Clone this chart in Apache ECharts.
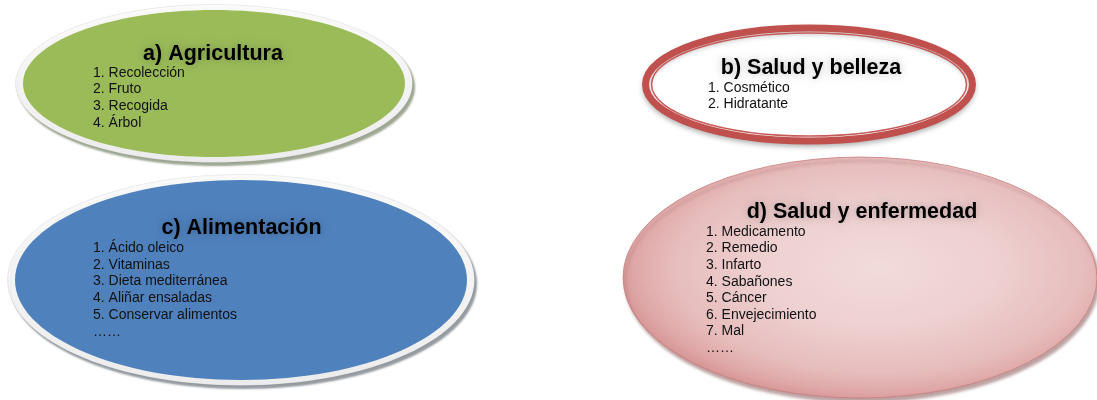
<!DOCTYPE html>
<html><head><meta charset="utf-8">
<script src="https://cdn.jsdelivr.net/npm/echarts@6/dist/echarts.min.js"></script>
<style>html,body{margin:0;padding:0;background:#fff}#c{width:1097px;height:400px}</style>
</head><body><div id="c"></div>
<script>
// ---- content ----
const titles = ['a) Agricultura', 'b) Salud y belleza', 'c) Alimentación', 'd) Salud y enfermedad'];
const itemsA = ['1. Recolección', '2. Fruto', '3. Recogida', '4. Árbol'];
const itemsB = ['1. Cosmético', '2. Hidratante'];
const itemsC = ['1. Ácido oleico', '2. Vitaminas', '3. Dieta mediterránea', '4. Aliñar ensaladas', '5. Conservar alimentos', '……'];
const itemsD = ['1. Medicamento', '2. Remedio', '3. Infarto', '4. Sabañones', '5. Cáncer', '6. Envejecimiento', '7. Mal', '……'];
const groupItems = [itemsA, itemsB, itemsC, itemsD];

// ---- layout (axis units = pixels of the 1097x400 canvas) ----
const layout = [
  {cx: 214, cy: 83.5, rx: 191, ry: 73.5, kind: 'rim', fill: '#9bbb59', shadow: 'rgba(95,108,75,0.6)', tx: 213, ty: 54, lx: 93, ly: 72.7, step: 16.7},
  {cx: 809, cy: 84.5, rx: 167, ry: 60, kind: 'double', fill: '#ffffff', tx: 811, ty: 68, lx: 708, ly: 88, step: 16},
  {cx: 241, cy: 280, rx: 226, ry: 100, kind: 'rim', fill: '#4f81bd', shadow: 'rgba(80,88,98,0.6)', tx: 241.5, ty: 228, lx: 93, ly: 248, step: 16.8},
  {cx: 860, cy: 277.5, rx: 237, ry: 120.5, kind: 'pink', tx: 862, ty: 212, lx: 706, ly: 232, step: 16.6}
];

const FONT = '"Liberation Sans", Arial, Helvetica, sans-serif';
const chart = echarts.init(document.getElementById('c'), null, {renderer: 'canvas'});

function renderItem(params, api) {
  const i = api.value(2);
  const L = layout[i];
  const c = api.coord([L.cx, L.cy]);
  const s = api.size([L.rx, L.ry]);
  const u = api.size([1, 1]);
  const kids = [];
  if (L.kind === 'rim') {
    kids.push({type: 'ellipse', shape: {cx: c[0], cy: c[1], rx: s[0] + 7.5 * u[0], ry: s[1] + 5.5 * u[1]},
      style: {fill: new echarts.graphic.LinearGradient(0, 0, 0, 1, [{offset: 0, color: '#fbfbfb'}, {offset: 1, color: '#ececec'}]),
        stroke: 'rgba(0,0,0,0.07)', lineWidth: 1, shadowColor: L.shadow, shadowOffsetX: 2.5, shadowOffsetY: 3.5, shadowBlur: 2}});
    kids.push({type: 'ellipse', shape: {cx: c[0], cy: c[1], rx: s[0], ry: s[1]}, style: {fill: L.fill}});
  } else if (L.kind === 'double') {
    kids.push({type: 'ellipse', shape: {cx: c[0], cy: c[1], rx: s[0] - 3.5 * u[0], ry: s[1] - 3.5 * u[1]},
      style: {fill: '#ffffff', stroke: '#c0504d', lineWidth: 7, shadowColor: 'rgba(0,0,0,0.22)', shadowOffsetY: 3, shadowBlur: 5}});
    kids.push({type: 'ellipse', shape: {cx: c[0], cy: c[1], rx: s[0] - 9.5 * u[0], ry: s[1] - 8.5 * u[1]},
      style: {fill: null, stroke: '#c65a57', lineWidth: 1.5}});
  } else {
    // circle squashed vertically so the radial shading follows the ellipse
    kids.push({type: 'circle', shape: {cx: c[0], cy: c[1], r: s[0]},
      scaleY: s[1] / s[0], originX: c[0], originY: c[1],
      style: {fill: new echarts.graphic.RadialGradient(0.54, 0.46, 0.56, [
          {offset: 0, color: '#f2dbdb'}, {offset: 0.45, color: '#eed0d0'}, {offset: 0.78, color: '#e7bcbc'}, {offset: 0.92, color: '#dfa7a7'}, {offset: 1, color: '#d69494'}]),
        stroke: '#c67c7c', lineWidth: 1, strokeNoScale: true,
        shadowColor: 'rgba(125,70,70,0.5)', shadowOffsetX: 2, shadowOffsetY: 4, shadowBlur: 3}});
  }
  const tp = api.coord([L.tx, L.ty]);
  kids.push({type: 'text', style: {text: titles[i], x: tp[0], y: tp[1], align: 'center', verticalAlign: 'middle',
    fontFamily: FONT, fontSize: 21.5, fontWeight: 'bold', fill: '#000',
    textShadowColor: 'rgba(0,0,0,0.25)', textShadowBlur: 9}});
  groupItems[i].forEach(function (t, k) {
    const p = api.coord([L.lx, L.ly + k * L.step]);
    kids.push({type: 'text', style: {text: t, x: p[0], y: p[1], align: 'left', verticalAlign: 'middle',
      fontFamily: FONT, fontSize: 14, fill: '#111'}});
  });
  return {type: 'group', children: kids};
}

chart.setOption({
  animation: false,
  grid: {left: 0, right: 0, top: 0, bottom: 0},
  xAxis: {type: 'value', min: 0, max: 1097, show: false},
  yAxis: {type: 'value', min: 0, max: 400, inverse: true, show: false},
  series: [{
    type: 'custom',
    renderItem: renderItem,
    clip: false,
    data: layout.map(function (L, i) { return [L.cx, L.cy, i]; }),
    encode: {x: 0, y: 1}
  }]
});
</script></body></html>
